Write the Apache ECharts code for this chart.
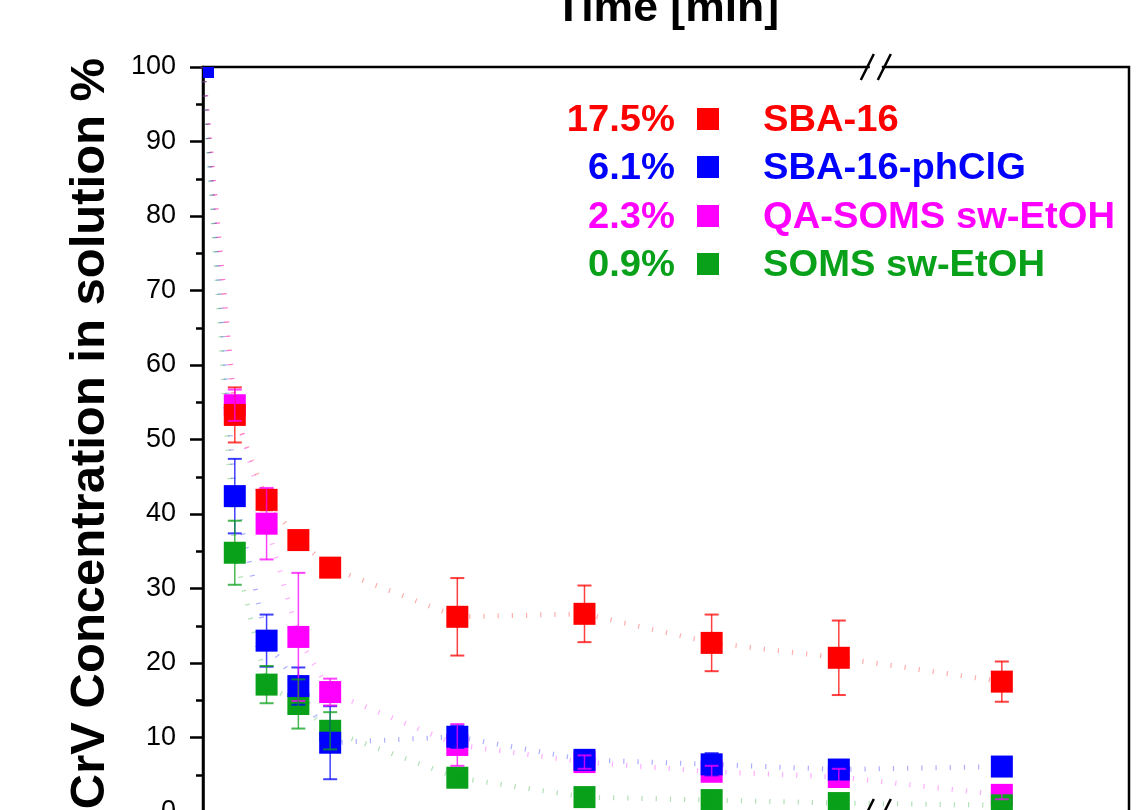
<!DOCTYPE html>
<html>
<head>
<meta charset="utf-8">
<title>CrV removal kinetics</title>
<script src="https://cdn.jsdelivr.net/npm/echarts@6/dist/echarts.min.js"></script>
<style>
  html, body { margin: 0; padding: 0; background: #fff; }
  #chart { width: 1144px; height: 810px; }
</style>
</head>
<body>
<div id="chart"></div>
<script>
// Sampling times (min); the last sample is taken after 24 h
const times = [0, 5, 10, 15, 20, 40, 60, 80, 100, 1440];

// CrV remaining in solution (%) and standard deviations per material
const sba16        = [100, 53.3, 41.9, 36.5, 32.8, 26.2, 26.6, 22.7, 20.7, 17.5];
const sba16Err     = [0, 3.7, 1.4, 1.0, 1.0, 5.2, 3.8, 3.8, 5.0, 2.7];
const sba16ph      = [100, 42.4, 23.0, 16.9, 9.3, 10.1, 7.0, 6.4, 5.7, 6.1];
const sba16phErr   = [0, 5.0, 3.5, 2.5, 4.9, 1.5, 0.8, 1.5, 0.5, 0.5];
const qaSoms       = [100, 54.6, 38.7, 23.5, 16.1, 9.0, 6.7, 5.4, 4.7, 2.3];
const qaSomsErr    = [0, 2.1, 4.8, 8.6, 1.8, 2.8, 0.9, 0.8, 1.1, 0.6];
const soms         = [100, 34.8, 17.1, 14.5, 10.9, 4.6, 2.0, 1.6, 1.2, 0.9];
const somsErr      = [0, 4.3, 2.5, 3.3, 2.5, 0.5, 0.5, 0.5, 0.5, 0.5];

const seriesNames = ['SBA-16', 'SBA-16-phClG', 'QA-SOMS sw-EtOH', 'SOMS sw-EtOH'];
const yTicks = [0, 10, 20, 30, 40, 50, 60, 70, 80, 90, 100];

const palette = ['#FF0000', '#0000FF', '#FF00FF', '#09A01A'];
const FONT = '"Liberation Sans", Arial, Helvetica, sans-serif';

const values = [sba16, sba16ph, qaSoms, soms];
const errors = [sba16Err, sba16phErr, qaSomsErr, somsErr];

// Broken time axis: the span between 104 and 1422 min is collapsed
const BREAK_START = 104, BREAK_END = 1422;

const chart = echarts.init(document.getElementById('chart'), null, { renderer: 'canvas' });

const pairs = (vals) => times.map((t, i) => [t, vals[i]]);

// Faint dotted connecting lines (drawn first, beneath all markers)
const lineSeries = values.map((vals, k) => ({
  type: 'line',
  name: seriesNames[k] + ' line',
  data: pairs(vals),
  showSymbol: false,
  symbol: 'none',
  silent: true,
  z: 1,
  lineStyle: { color: palette[k], width: 5, type: [1.2, 13], opacity: 0.32, cap: 'butt' }
}));

// Square markers clipped to the plot frame, stacked magenta < green < red < blue
const SQ = 22;
const markerOrder = [2, 3, 0, 1];
const markerSeries = markerOrder.map(k => ({
  type: 'custom',
  name: seriesNames[k],
  data: pairs(values[k]),
  z: 3,
  encode: { x: 0, y: 1 },
  renderItem: function (params, api) {
    const c = api.coord([api.value(0), api.value(1)]);
    const cs = params.coordSys;
    const shape = echarts.graphic.clipRectByRect(
      { x: c[0] - SQ / 2, y: c[1] - SQ / 2, width: SQ, height: SQ },
      { x: cs.x, y: cs.y, width: cs.width, height: cs.height }
    );
    if (!shape) return null;
    return { type: 'rect', shape: shape, style: { fill: palette[k] } };
  }
}));

// Error bars on top of the markers
const errData = [];
values.forEach((vals, k) => {
  times.forEach((t, i) => errData.push([t, vals[i], errors[k][i], k]));
});
const errorSeries = {
  type: 'custom',
  name: 'error bars',
  data: errData,
  z: 5,
  silent: true,
  encode: { x: 0, y: 1 },
  renderItem: function (params, api) {
    const x = api.value(0), v = api.value(1), e = api.value(2), k = api.value(3);
    if (!e) return null;
    const top = api.coord([x, v + e]);
    const bot = api.coord([x, v - e]);
    const hw = 7;
    const col = palette[k];
    return {
      type: 'group',
      children: [
        { type: 'line', shape: { x1: top[0], y1: top[1], x2: bot[0], y2: bot[1] },
          style: { stroke: col, lineWidth: 1.5, opacity: 0.75 } },
        { type: 'line', shape: { x1: top[0] - hw, y1: top[1], x2: top[0] + hw, y2: top[1] },
          style: { stroke: col, lineWidth: 2, opacity: 0.75 } },
        { type: 'line', shape: { x1: bot[0] - hw, y1: bot[1], x2: bot[0] + hw, y2: bot[1] },
          style: { stroke: col, lineWidth: 2, opacity: 0.75 } }
      ]
    };
  }
};

// Legend: final removal value, coloured square, material name
const legendItems = [];
const rowY = [119, 167, 216, 264];
const TEXT_SX = 1.06;
seriesNames.forEach((name, k) => {
  const last = values[k][values[k].length - 1];
  legendItems.push({
    type: 'text', x: 675, y: rowY[k] + 2, z: 50, scaleX: TEXT_SX,
    style: { text: last.toFixed(1) + '%', fill: palette[k], font: 'bold 36px ' + FONT,
             align: 'right', verticalAlign: 'middle' }
  });
  legendItems.push({
    type: 'rect', shape: { x: 697, y: rowY[k] - SQ / 2, width: SQ, height: SQ }, z: 50,
    style: { fill: palette[k] }
  });
  legendItems.push({
    type: 'text', x: 763, y: rowY[k] + 2, z: 50, scaleX: TEXT_SX,
    style: { text: name, fill: palette[k], font: 'bold 36px ' + FONT,
             align: 'left', verticalAlign: 'middle' }
  });
});

const option = {
  backgroundColor: '#fff',
  animation: false,
  grid: {
    left: 203, top: 67, width: 926, height: 745,
    outerBoundsMode: 'none',
    show: true, borderColor: '#000', borderWidth: 2.5, backgroundColor: 'transparent',
    containLabel: false
  },
  xAxis: {
    type: 'value',
    min: 0, max: 1460,
    breaks: [{ start: BREAK_START, end: BREAK_END, gap: '2.5%' }],
    breakArea: { show: false },
    axisLine: { show: false },
    axisTick: { show: false },
    axisLabel: { show: false },
    splitLine: { show: false }
  },
  yAxis: {
    type: 'value',
    min: yTicks[0], max: yTicks[yTicks.length - 1], interval: 10,
    name: 'CrV Concentration in solution %',
    nameLocation: 'middle',
    nameGap: 88,
    nameTextStyle: { fontFamily: FONT, fontSize: 49, fontWeight: 'bold', color: '#000',
                     padding: [0, 0, 0, 12] },
    axisLine: { show: true, lineStyle: { color: '#000', width: 2.5 } },
    axisTick: { show: true, inside: false, length: 13, lineStyle: { color: '#000', width: 2.5 } },
    minorTick: { show: true, splitNumber: 2, length: 7, lineStyle: { color: '#000', width: 2.5 } },
    axisLabel: { fontFamily: FONT, fontSize: 27, color: '#000', margin: 27 },
    splitLine: { show: false }
  },
  series: [...lineSeries, ...markerSeries, errorSeries]
};

chart.setOption(option);

// Axis title (top) and legend block
const graphics = [
  { type: 'text', x: 667, y: 9, z: 50, scaleX: TEXT_SX,
    style: { text: 'Time [min]', fill: '#000', font: 'bold 42px ' + FONT,
             align: 'center', verticalAlign: 'middle' } },
  ...legendItems
];

// Break markers "//" on the top and bottom frame lines
const xa = chart.convertToPixel({ xAxisIndex: 0 }, BREAK_START);
const xb = chart.convertToPixel({ xAxisIndex: 0 }, BREAK_END);
const cx = (xa + xb) / 2;
[67, 812].forEach(yy => {
  graphics.push({ type: 'rect', shape: { x: cx - 6, y: yy - 3, width: 12, height: 6 }, z: 60,
                  style: { fill: '#fff' } });
  [-8.5, 8.5].forEach(off => {
    graphics.push({ type: 'line', z: 61,
      shape: { x1: cx + off - 6.5, y1: yy + 13, x2: cx + off + 6.5, y2: yy - 13 },
      style: { stroke: '#000', lineWidth: 2.5 } });
  });
});

chart.setOption({ graphic: graphics });
</script>
</body>
</html>
